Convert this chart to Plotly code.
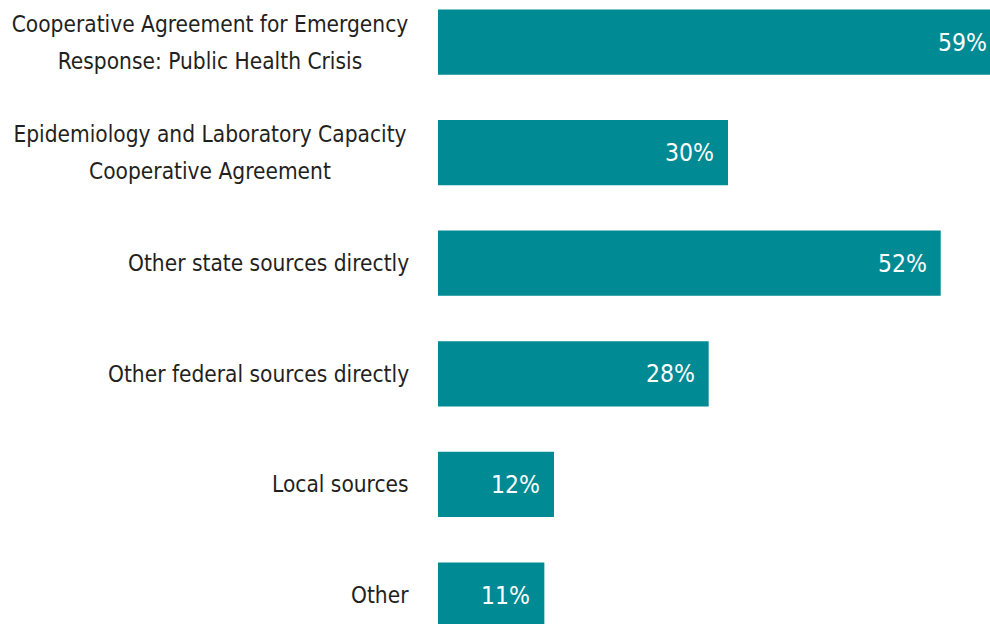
import plotly.graph_objects as go

categories = [
    "Cooperative Agreement for Emergency<br>Response: Public Health Crisis",
    "Epidemiology and Laboratory Capacity<br>Cooperative Agreement",
    "Other state sources directly",
    "Other federal sources directly",
    "Local sources",
    "Other",
]
values = [59, 30, 52, 28, 12, 11]
labels = [f"{v}%" for v in values]

FONT = "Liberation Sans Narrow, DejaVu Sans Condensed, Roboto, sans-serif"
XMAX = 57.1
LINE_GAP = 37

fig = go.Figure()
fig.add_trace(go.Bar(
    y=categories, x=values, orientation="h",
    marker=dict(color="#008A93", line=dict(width=0)),
    width=0.59, hoverinfo="skip",
))
for c, v, t in zip(categories, values, labels):
    fig.add_annotation(
        x=min(v, XMAX), y=c, xref="x", yref="y", text=t, showarrow=False,
        xanchor="right", xshift=-12 if v <= XMAX else -1,
        font=dict(family=FONT, size=24.5, color="white"),
    )
    lines = c.split("<br>")
    n = len(lines)
    for i, line in enumerate(lines):
        kw = dict(width=398, align="center") if n > 1 else {}
        fig.add_annotation(
            x=0, y=c, xref="paper", yref="y", text=line, showarrow=False,
            xanchor="right", xshift=-27,
            yshift=((n - 1) / 2 - i) * LINE_GAP,
            font=dict(family=FONT, size=22.5, color="#231F20"),
            **kw,
        )

fig.update_layout(
    width=990, height=624,
    margin=dict(l=438, r=0, t=0, b=0),
    paper_bgcolor="white", plot_bgcolor="white",
    showlegend=False,
    font=dict(family=FONT, size=22.5, color="#231F20"),
)
fig.update_xaxes(range=[0, XMAX], visible=False, fixedrange=True)
fig.update_yaxes(
    type="category", range=[5.262, -0.38], showgrid=False, zeroline=False,
    showline=False, ticks="", showticklabels=False, automargin=False,
    fixedrange=True,
)

fig.write_html(
    "out.html",
    config={"displayModeBar": False, "staticPlot": True},
    post_script="document.body.style.margin='0';document.body.style.overflow='hidden';",
)
